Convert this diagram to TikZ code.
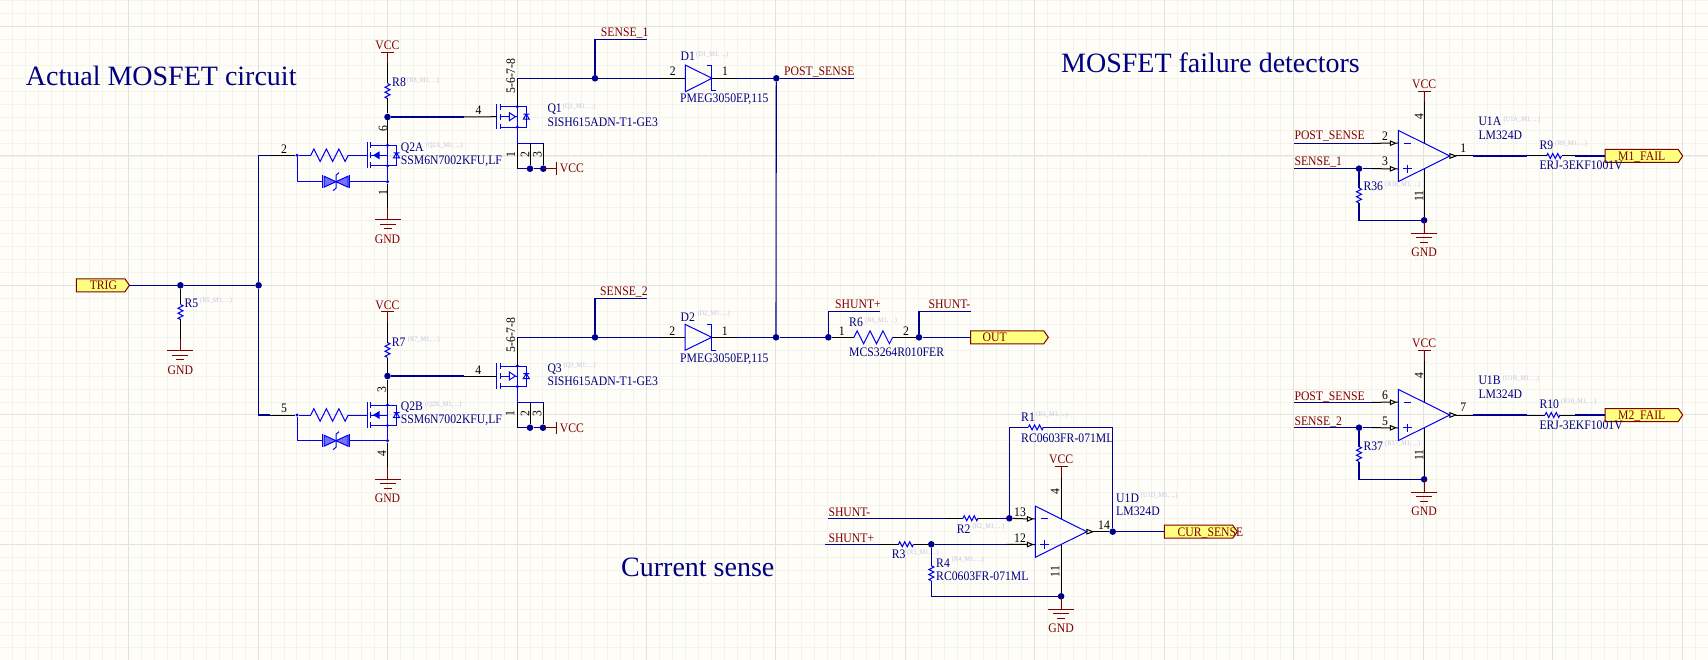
\documentclass[tikz,border=0pt]{standalone}
\usepackage{fontspec}
\setmainfont[FakeStretch=0.9]{Liberation Serif}
\newfontfamily\headfont{Liberation Serif}

\definecolor{sheetcol}{HTML}{FFFDF8}
\definecolor{gridcol}{HTML}{F3F3EE}
\definecolor{gridmaj}{HTML}{E2E2DE}
\definecolor{wirecol}{HTML}{000090}
\definecolor{partcol}{HTML}{0000F0}
\definecolor{textcol}{HTML}{000080}
\definecolor{netcol}{HTML}{800000}
\definecolor{refcol}{HTML}{C4C4DE}
\definecolor{portcol}{HTML}{FFFF80}

\newcommand{\fetbody}{
	\draw[part] (-20.5,-12.8) -- (-20.5,12.8);
	\draw[part] (-16.8,-12.8) -- (-16.8,-7) (-16.8,-3) -- (-16.8,3) (-16.8,7) -- (-16.8,12.8);
	\draw[part] (-16.8,-10) -- (9,-10) -- (9,10.5) -- (-16.8,10.5);
	\draw[part] (-16.8,0) -- (0,0) (0,-10) -- (0,10.5);
	\draw[part] (6,2.5) -- (12,2.5) -- (9,-2.5) -- cycle (6,-2.5) -- (12,-2.5);
	\fill[partcol] (0,-10) circle (1.7) (0,10.5) circle (1.7);
	\coordinate (-g) at (-20.5,0);
	\coordinate (-d) at (0,-10);
	\coordinate (-s) at (0,10.5);
}

\tikzset{
	wire/.style={draw=wirecol,line width=1.1pt},
	pinl/.style={draw=black,line width=1pt},
	part/.style={draw=partcol,line width=1pt},
	redl/.style={draw=netcol,line width=1pt},
	junc/.style={circle,fill=wirecol,draw=none,inner sep=0pt,minimum size=6.6pt},
	tee/.style={circle,fill=partcol,draw=none,inner sep=0pt,minimum size=3.4pt},
	lbl/.style={font=\fontsize{13}{14}\selectfont,inner sep=0pt,text height=8.6pt,text depth=0pt},
	desig/.style={lbl,text=textcol,anchor=west},
	netred/.style={lbl,text=netcol,anchor=west},
	pinno/.style={lbl,text=black,anchor=center},
	refx/.style={font=\fontsize{7.1}{8}\selectfont,text=refcol,inner sep=0pt,anchor=west},
	headl/.style={font=\headfont\fontsize{28}{30}\selectfont,text=textcol,inner sep=0pt,anchor=west},
	resz/.pic={
		\draw[part] (-7.5,0) -- (-6.25,-2.5) -- (-3.75,2.5) -- (-1.25,-2.5) -- (1.25,2.5) -- (3.75,-2.5) -- (6.25,2.5) -- (7.5,0);
		\coordinate (-a) at (-7.5,0);
		\coordinate (-b) at (7.5,0);
	},
	fetn/.pic={
		\fetbody
		\fill[partcol] (-14.5,0) -- (-8,-4) -- (-8,4) -- cycle;
	},
	fetp/.pic={
		\fetbody
		\draw[part,fill=sheetcol] (-8,-4) -- (-8,4) -- (-2,0) -- cycle;
	},
	clampd/.pic={
		\draw[part,fill=partcol!55] (-12,-5.5) -- (-12,5.5) -- (0,0) -- cycle;
		\draw[part,fill=partcol!55] (12,-5.5) -- (12,5.5) -- (0,0) -- cycle;
		\draw[part] (3,-9) -- (0,-6.5) -- (0,6.5) -- (-3,9);
		\draw[part] (-13.7,-6.5) -- (-13.7,6.5) (13.3,-6.5) -- (13.3,6.5);
		\coordinate (-a) at (-13.7,0);
		\coordinate (-b) at (13.3,0);
	},
	opa/.pic={
		\draw[part] (0,-25.6) -- (0,25.6) -- (51.5,0) -- cycle;
		\draw[part] (5.4,-12.8) -- (13,-12.8);
		\draw[part] (5,12.8) -- (13.4,12.8) (9.2,8.6) -- (9.2,17);
		\draw[pinl] (-8,-15) -- (-8,-10.6) -- (-2.7,-12.8) -- cycle (-2.7,-12.8) -- (0,-12.8);
		\draw[pinl] (-8,10.6) -- (-8,15) -- (-2.7,12.8) -- cycle (-2.7,12.8) -- (0,12.8);
		\draw[pinl] (51.5,-2.3) -- (51.5,2.3) -- (57.5,0) -- cycle;
		\coordinate (-m) at (-8,-12.8);
		\coordinate (-n) at (-8,12.8);
		\coordinate (-o) at (57.5,0);
		\coordinate (-t) at (25.8,-12.9);
		\coordinate (-u) at (25.8,12.9);
	},
	gndp/.pic={
		\draw[redl] (0,-12) -- (0,0) (-13,0) -- (13,0) (-8,4.5) -- (8,4.5) (-4,9) -- (4,9);
		\node[lbl,text=netcol] (-txt) at (0,19.3) {GND};
		\coordinate (-p) at (0,-12);
	},
	vccp/.pic={
		\draw[redl] (-6.5,0) -- (6.5,0) (0,0) -- (0,10.7);
		\node[lbl,text=netcol] (-txt) at (0,-7) {VCC};
		\coordinate (-p) at (0,10.7);
	},
	vccs/.pic={
		\draw[redl] (0,-6.2) -- (0,6.2) (-13.4,0) -- (0,0);
		\node[netred] (-txt) at (3,0) {VCC};
		\coordinate (-p) at (-13.4,0);
	},
	pics/portb/.style n args={3}{code={
		\draw[netcol,fill=portcol,line width=1pt] (0,-6.5) -- (#1-4.5,-6.5) -- (#1,0) -- (#1-4.5,6.5) -- (0,6.5) -- cycle;
		\node[lbl,text=netcol] (-txt) at (#2,0) {#3};
		\coordinate (-w) at (0,0);
		\coordinate (-e) at (#1,0);
	}}
}

\begin{document}
\begin{tikzpicture}[x=1pt,y=-1pt]
	\useasboundingbox (0,0) rectangle (1708,660);
	\fill[sheetcol] (0,0) rectangle (1708,660);

	% sheet grid
	\begin{scope}
		\clip (0,0) rectangle (1708,660);
		\foreach \i in {0,...,132}
			\draw[gridcol,line width=0.8pt] (-0.85+12.945*\i,0) -- (-0.85+12.945*\i,660);
		\foreach \i in {0,...,51}
			\draw[gridcol,line width=0.8pt] (0,0.61+12.945*\i) -- (1708,0.61+12.945*\i);
		\foreach \i in {0,...,13}
			\draw[gridmaj,line width=0.9pt] (-0.85+129.45*\i,0) -- (-0.85+129.45*\i,660);
		\foreach \i in {0,...,5}
			\draw[gridmaj,line width=0.9pt] (0,26.5+129.45*\i) -- (1708,26.5+129.45*\i);
	\end{scope}

	\node[headl] (H1) at (25.7,76) {Actual MOSFET circuit};
	\node[headl] (H2) at (1061,63) {MOSFET failure detectors};
	\node[headl] (H3) at (621,567) {Current sense};

	% trigger input
	\pic (TRIG) at (76.4,285.3) {portb={53}{27}{TRIG}};
	\node[junc] (J5) at (180.4,285.3) {};
	\node[junc] (J0) at (258.6,285.3) {};
	\pic[rotate=-90] (R5) at (180.4,312) {resz};
	\pic (G5) at (180.4,350.7) {gndp};
	\path (TRIG-e) edge[wire] (J5)
		(J5) edge[wire] (J0)
		(J5) edge[pinl] (R5-a)
		(R5-b) edge[pinl] (G5-p);
	\node[desig] (R5n) at (184.3,303.3) {R5};
	\node[refx] (R5r) at (200,300.7) {(R5\_M1, ...)};

	% upper pair
	\coordinate (M1) at (270,155.3);
	\node[tee] (T1) at (297,155.3) {};
	\pic[scale=2.5] (RA) at (329.5,155.3) {resz};
	\pic (Q2A) at (387.5,155.3) {fetn};
	\pic (ZA) at (336,181.7) {clampd};
	\node[tee] (S1) at (387.5,181.7) {};
	\pic (G1) at (387.5,220) {gndp};
	\pic[rotate=-90] (R8) at (387.5,91) {resz};
	\pic (V1) at (387.5,52.3) {vccp};
	\node[junc] (J1) at (387.5,117) {};
	\draw[wire] (J0) |- (M1);
	\draw[part] (T1) |- (ZA-a);
	\path (M1) edge[pinl] (T1)
		(T1) edge[part] (RA-a)
		(RA-b) edge[part] (Q2A-g)
		(ZA-b) edge[part] (S1)
		(Q2A-s) edge[part] (S1)
		(S1) edge[pinl] (G1-p)
		(V1-p) edge[pinl] (R8-a)
		(R8-b) edge[pinl] (J1)
		(J1) edge[pinl] (Q2A-d);
	\node[pinno] (P2) at (284,149) {2};
	\node[pinno,rotate=90] (P6) at (383,129) {6};
	\node[pinno,rotate=90] (P1) at (383,193) {1};
	\node[desig] (R8n) at (392,82.7) {R8};
	\node[refx] (R8r) at (407,81) {(R8\_M1, ...)};
	\node[desig] (QAn) at (400.7,147.7) {Q2A};
	\node[refx] (QAr) at (425.7,145.7) {(Q2A\_M1, ...)};
	\node[desig] (QAv) at (400.7,160) {SSM6N7002KFU,LF};

	\pic (Q1) at (517.3,116.7) {fetp};
	\coordinate (M2) at (464,117);
	\coordinate (D1t) at (517.3,78.3);
	\node[junc] (J2) at (595,78.3) {};
	\coordinate (N1) at (646.7,39.3);
	\coordinate (A1) at (517.3,143.3);
	\coordinate (B1) at (530,143.3);
	\coordinate (C1) at (543.3,143.3);
	\coordinate (A2) at (517.3,168.7);
	\node[junc] (B2) at (530,168.7) {};
	\node[junc] (C2) at (543.3,168.7) {};
	\pic (V2) at (556.7,168.7) {vccs};
	\draw[wire] (J2) |- (N1);
	\path (J1) edge[wire] (M2)
		(M2) edge[pinl] (Q1-g)
		(Q1-d) edge[pinl] (D1t)
		(D1t) edge[wire] (J2)
		(Q1-s) edge[part] (A1)
		(A1) edge[part] (C1)
		(A1) edge[pinl] (A2)
		(B1) edge[pinl] (B2)
		(C1) edge[pinl] (C2)
		(A2) edge[wire] (B2)
		(B2) edge[wire] (C2)
		(C2) edge[redl] (V2-p);
	\node[pinno] (P4) at (478.6,110.7) {4};
	\node[pinno,rotate=90] (P58) at (510.7,76) {5-6-7-8};
	\node[pinno,rotate=90] (P11) at (510.7,155) {1};
	\node[pinno,rotate=90] (P12) at (525,155) {2};
	\node[pinno,rotate=90] (P13) at (537.3,155) {3};
	\node[desig] (Q1n) at (547.3,108.7) {Q1};
	\node[refx] (Q1r) at (562.7,106.7) {(Q1\_M1, ...)};
	\node[desig] (Q1v) at (547.3,122) {SISH615ADN-T1-GE3};
	\node[netred] (N1t) at (600.7,32.7) {SENSE\_1};

	% upper diode
	\coordinate (Da1) at (660,78.3);
	\coordinate (Db1) at (685.3,78.3);
	\coordinate (Dc1) at (712,78.3);
	\coordinate (Dd1) at (736.7,78.3);
	\draw[part] (Db1) -- (685.3,65) -- (Dc1) -- (685.3,91.7) -- cycle;
	\draw[part] (707.3,65.5) -- (711.5,65.5) -- (711.5,91) -- (715.7,91);
	\node[junc] (J3) at (776.3,78.3) {};
	\coordinate (Ps) at (854,78.3);
	\path (D1t) edge[wire] (Da1)
		(Da1) edge[pinl] (Db1)
		(Dc1) edge[pinl] (Dd1)
		(Dd1) edge[wire] (J3)
		(J3) edge[wire] (Ps);
	\node[pinno] (Dp2) at (672.7,71.7) {2};
	\node[pinno] (Dp1) at (725,71.7) {1};
	\node[desig] (D1n) at (680.5,56.7) {D1};
	\node[refx] (D1r) at (696,54.3) {(D1\_M1, ...)};
	\node[desig] (D1v) at (680,98.7) {PMEG3050EP,115};
	\node[netred] (Pst) at (784,71.7) {POST\_SENSE};

	% lower pair
	\coordinate (M3) at (270,415);
	\node[tee] (T2) at (297,415) {};
	\pic[scale=2.5] (RB) at (329.5,415) {resz};
	\pic (Q2B) at (387.5,415) {fetn};
	\pic (ZB) at (336,440.7) {clampd};
	\node[tee] (S2) at (387.5,440.7) {};
	\pic (G2) at (387.5,479.3) {gndp};
	\pic[rotate=-90] (R7) at (387.5,350) {resz};
	\pic (V3) at (387.5,311.7) {vccp};
	\node[junc] (J4) at (387.5,376) {};
	\draw[wire] (J0) |- (M3);
	\draw[part] (T2) |- (ZB-a);
	\path (M3) edge[pinl] (T2)
		(T2) edge[part] (RB-a)
		(RB-b) edge[part] (Q2B-g)
		(ZB-b) edge[part] (S2)
		(Q2B-s) edge[part] (S2)
		(S2) edge[pinl] (G2-p)
		(V3-p) edge[pinl] (R7-a)
		(R7-b) edge[pinl] (J4)
		(J4) edge[pinl] (Q2B-d);
	\node[pinno] (P5) at (284,407.7) {5};
	\node[pinno,rotate=90] (P3) at (381.7,389.3) {3};
	\node[pinno,rotate=90] (P44) at (381.7,453.3) {4};
	\node[desig] (R7n) at (391.7,341.7) {R7};
	\node[refx] (R7r) at (407.7,340) {(R7\_M1, ...)};
	\node[desig] (QBn) at (400.7,406) {Q2B};
	\node[refx] (QBr) at (425,405) {(Q2B\_M1, ...)};
	\node[desig] (QBv) at (400.7,419.3) {SSM6N7002KFU,LF};

	\pic (Q3) at (517.3,376) {fetp};
	\coordinate (M4) at (464,376);
	\coordinate (D2t) at (517.3,337.3);
	\node[junc] (J6) at (595,337.3) {};
	\coordinate (N2) at (646.7,298.3);
	\coordinate (E1) at (517.3,402.3);
	\coordinate (F1) at (530,402.3);
	\coordinate (H1c) at (543,402.3);
	\coordinate (E2) at (517.3,427.7);
	\node[junc] (F2) at (530,427.7) {};
	\node[junc] (G2c) at (543,427.7) {};
	\pic (V4) at (556.7,427.7) {vccs};
	\draw[wire] (J6) |- (N2);
	\path (J4) edge[wire] (M4)
		(M4) edge[pinl] (Q3-g)
		(Q3-d) edge[pinl] (D2t)
		(D2t) edge[wire] (J6)
		(Q3-s) edge[part] (E1)
		(E1) edge[part] (H1c)
		(E1) edge[pinl] (E2)
		(F1) edge[pinl] (F2)
		(H1c) edge[pinl] (G2c)
		(E2) edge[wire] (F2)
		(F2) edge[wire] (G2c)
		(G2c) edge[redl] (V4-p);
	\node[pinno] (P42) at (478.3,370) {4};
	\node[pinno,rotate=90] (P58b) at (510.7,335) {5-6-7-8};
	\node[pinno,rotate=90] (P21) at (510,414) {1};
	\node[pinno,rotate=90] (P22) at (525,414) {2};
	\node[pinno,rotate=90] (P23) at (537,414) {3};
	\node[desig] (Q3n) at (547.3,367.7) {Q3};
	\node[refx] (Q3r) at (563.3,366) {(Q3\_M1, ...)};
	\node[desig] (Q3v) at (547.3,380.7) {SISH615ADN-T1-GE3};
	\node[netred] (N2t) at (600,291.7) {SENSE\_2};

	% lower diode and shunt
	\coordinate (Da2) at (660,337.3);
	\coordinate (Db2) at (685,337.3);
	\coordinate (Dc2) at (711.7,337.3);
	\coordinate (Dd2) at (736.7,337.3);
	\draw[part] (Db2) -- (685,324.3) -- (Dc2) -- (685,350.3) -- cycle;
	\draw[part] (707.3,324.8) -- (711.5,324.8) -- (711.5,350) -- (715.7,350);
	\node[junc] (J7) at (776,337.3) {};
	\node[junc] (J8) at (828.3,337.3) {};
	\node[junc] (J9) at (919,337.3) {};
	\pic[scale=2.58] (R6) at (873.3,337.3) {resz};
	\coordinate (Sp) at (880,311.7);
	\coordinate (Sm) at (970.7,311.7);
	\pic (OUT) at (970.7,337.3) {portb={77.6}{24}{OUT}};
	\draw[wire] (J8) |- (Sp);
	\draw[wire] (J9) |- (Sm);
	\path (D2t) edge[wire] (Da2)
		(Da2) edge[pinl] (Db2)
		(Dc2) edge[pinl] (Dd2)
		(Dd2) edge[wire] (J7)
		(J3) edge[wire] (J7)
		(J7) edge[wire] (J8)
		(J8) edge[pinl] (R6-a)
		(R6-b) edge[pinl] (J9)
		(J9) edge[wire] (OUT-w);
	\node[pinno] (Dq2) at (672.3,330.7) {2};
	\node[pinno] (Dq1) at (724.7,330.7) {1};
	\node[desig] (D2n) at (680.5,316.7) {D2};
	\node[refx] (D2r) at (697.3,314) {(D2\_M1, ...)};
	\node[desig] (D2v) at (680,357.7) {PMEG3050EP,115};
	\node[netred] (Spt) at (835,304.3) {SHUNT+};
	\node[netred] (Smt) at (928.3,304.3) {SHUNT-};
	\node[pinno] (Rp1) at (841.7,330.7) {1};
	\node[pinno] (Rp2) at (906,330.7) {2};
	\node[desig] (R6n) at (849,322.3) {R6};
	\node[refx] (R6r) at (865,321) {(R6\_M1, ...)};
	\node[desig] (R6v) at (849,351.7) {MCS3264R010FER};

	% current sense amplifier
	\pic (U1D) at (1035.3,531.7) {opa};
	\pic (V5) at (1061.1,466) {vccp};
	\pic (G3) at (1061.1,609.3) {gndp};
	\node[junc] (J10) at (1009.3,518.3) {};
	\node[junc] (J11) at (1112.7,531.7) {};
	\node[junc] (J12) at (931.3,544.3) {};
	\node[junc] (J13) at (1061.1,596.3) {};
	\pic (R1) at (1035.8,427.3) {resz};
	\pic (R2) at (970.5,518.3) {resz};
	\pic (R3) at (906,544.3) {resz};
	\pic[rotate=-90] (R4) at (931.3,573.3) {resz};
	\coordinate (Sa) at (828.3,518.3);
	\coordinate (Sb) at (945,518.3);
	\coordinate (Sc) at (996.7,518.3);
	\coordinate (Sd) at (825,544.3);
	\coordinate (Se) at (880,544.3);
	\coordinate (Sf) at (1006.7,544.3);
	\pic (CUR) at (1164.3,531.7) {portb={73}{46.2}{CUR\_SENSE}};
	\draw[wire] (J10) |- (R1-a);
	\draw[wire] (R1-b) -| (J11);
	\draw[wire] (R4-b) |- (J13);
	\path (Sa) edge[wire] (Sb)
		(Sb) edge[pinl] (R2-a)
		(R2-b) edge[pinl] (Sc)
		(Sc) edge[wire] (J10)
		(J10) edge[pinl] (U1D-m)
		(Sd) edge[wire] (Se)
		(Se) edge[pinl] (R3-a)
		(R3-b) edge[pinl] (J12)
		(J12) edge[wire] (Sf)
		(Sf) edge[pinl] (U1D-n)
		(J12) edge[wire] (R4-a)
		(U1D-o) edge[pinl] (J11)
		(J11) edge[wire] (CUR-w)
		(V5-p) edge[pinl] (U1D-t)
		(U1D-u) edge[pinl] (J13)
		(J13) edge[redl] (G3-p);
	\node[netred] (Smn) at (828.3,511.7) {SHUNT-};
	\node[netred] (Spl) at (828.3,537.7) {SHUNT+};
	\node[pinno] (Up13) at (1020,511.7) {13};
	\node[pinno] (Up12) at (1020,537.7) {12};
	\node[pinno] (Up14) at (1104,525) {14};
	\node[pinno,rotate=90] (Up4) at (1055,491.7) {4};
	\node[pinno,rotate=90] (Up11) at (1055,571.7) {11};
	\node[desig] (R1n) at (1021,417.3) {R1};
	\node[refx] (R1r) at (1036,415) {(R1\_M1, ...)};
	\node[desig] (R1v) at (1021,437.7) {RC0603FR-071ML};
	\node[desig] (R2n) at (956.7,529) {R2};
	\node[refx] (R2r) at (972.3,527) {(R2\_M1, ...)};
	\node[desig] (R3n) at (891.7,554.3) {R3};
	\node[refx] (R3r) at (906.7,552.7) {(R3\_M1, ...)};
	\node[desig] (R4n) at (936,562.7) {R4};
	\node[refx] (R4r) at (951.7,560) {(R4\_M1, ...)};
	\node[desig] (R4v) at (936,576) {RC0603FR-071ML};
	\node[desig] (UDn) at (1116,497.7) {U1D};
	\node[refx] (UDr) at (1140.7,496) {(U1D\_M1, ...)};
	\node[desig] (UDv) at (1116,511) {LM324D};

	% failure detector 1
	\pic (U1A) at (1398.3,156) {opa};
	\pic (V6) at (1424.1,91.7) {vccp};
	\pic (G4) at (1424.1,233.3) {gndp};
	\node[junc] (J14) at (1359,168.7) {};
	\node[junc] (J15) at (1424.1,220.3) {};
	\pic[rotate=-90] (R36) at (1359,195.5) {resz};
	\pic (R9) at (1554,156) {resz};
	\coordinate (Fa) at (1294.3,143.3);
	\coordinate (Fb) at (1372,143.3);
	\coordinate (Fc) at (1294.3,168.7);
	\coordinate (Fd) at (1372,168.7);
	\coordinate (Fe) at (1473,156);
	\coordinate (Ff) at (1527,156);
	\coordinate (Fg) at (1575,156);
	\pic (M1F) at (1605,156) {portb={77.7}{36.7}{M1\_FAIL}};
	\draw[wire] (R36-b) |- (J15);
	\path (Fa) edge[wire] (Fb)
		(Fb) edge[pinl] (U1A-m)
		(Fc) edge[wire] (J14)
		(J14) edge[wire] (Fd)
		(Fd) edge[pinl] (U1A-n)
		(J14) edge[wire] (R36-a)
		(U1A-o) edge[pinl] (Fe)
		(Fe) edge[wire] (Ff)
		(Ff) edge[pinl] (R9-a)
		(R9-b) edge[pinl] (Fg)
		(Fg) edge[wire] (M1F-w)
		(V6-p) edge[pinl] (U1A-t)
		(U1A-u) edge[pinl] (J15)
		(J15) edge[redl] (G4-p);
	\node[netred] (Fn1) at (1294.3,135.3) {POST\_SENSE};
	\node[netred] (Fn2) at (1294.3,161.7) {SENSE\_1};
	\node[pinno] (Ua2) at (1385,136) {2};
	\node[pinno] (Ua3) at (1385,161.7) {3};
	\node[pinno] (Ua1) at (1463.3,148.3) {1};
	\node[pinno,rotate=90] (Ua4) at (1419,116.7) {4};
	\node[pinno,rotate=90] (Ua11) at (1419,196) {11};
	\node[desig] (R36n) at (1363.3,186.7) {R36};
	\node[refx] (R36r) at (1385,184.7) {(R36\_M1, ...)};
	\node[desig] (UAn) at (1478.3,121.7) {U1A};
	\node[refx] (UAr) at (1503.3,120) {(U1A\_M1, ...)};
	\node[desig] (UAv) at (1478.3,135) {LM324D};
	\node[desig] (R9n) at (1539.3,145.7) {R9};
	\node[refx] (R9r) at (1555,143.3) {(R9\_M1, ...)};
	\node[desig] (R9v) at (1539.3,165.7) {ERJ-3EKF1001V};

	% failure detector 2
	\pic (U1B) at (1398.3,415) {opa};
	\pic (V7) at (1424.1,350.7) {vccp};
	\pic (G6) at (1424.1,492.3) {gndp};
	\node[junc] (J16) at (1359,427.7) {};
	\node[junc] (J17) at (1424.1,479.3) {};
	\pic[rotate=-90] (R37) at (1359,454) {resz};
	\pic (R10) at (1552.5,415) {resz};
	\coordinate (Ga) at (1294.3,402.3);
	\coordinate (Gb) at (1372,402.3);
	\coordinate (Gc) at (1294.3,427.7);
	\coordinate (Gd) at (1372,427.7);
	\coordinate (Ge) at (1473,415);
	\coordinate (Gf) at (1527,415);
	\coordinate (Gg) at (1575,415);
	\pic (M2F) at (1605,415) {portb={77.7}{36.7}{M2\_FAIL}};
	\draw[wire] (R37-b) |- (J17);
	\path (Ga) edge[wire] (Gb)
		(Gb) edge[pinl] (U1B-m)
		(Gc) edge[wire] (J16)
		(J16) edge[wire] (Gd)
		(Gd) edge[pinl] (U1B-n)
		(J16) edge[wire] (R37-a)
		(U1B-o) edge[pinl] (Ge)
		(Ge) edge[wire] (Gf)
		(Gf) edge[pinl] (R10-a)
		(R10-b) edge[pinl] (Gg)
		(Gg) edge[wire] (M2F-w)
		(V7-p) edge[pinl] (U1B-t)
		(U1B-u) edge[pinl] (J17)
		(J17) edge[redl] (G6-p);
	\node[netred] (Gn1) at (1294.3,395.7) {POST\_SENSE};
	\node[netred] (Gn2) at (1294.3,420.7) {SENSE\_2};
	\node[pinno] (Ub6) at (1385,395.3) {6};
	\node[pinno] (Ub5) at (1385,420.7) {5};
	\node[pinno] (Ub7) at (1463.3,407.3) {7};
	\node[pinno,rotate=90] (Ub4) at (1419,375.3) {4};
	\node[pinno,rotate=90] (Ub11) at (1419,455) {11};
	\node[desig] (R37n) at (1363.3,445.7) {R37};
	\node[refx] (R37r) at (1385,444) {(R37\_M1, ...)};
	\node[desig] (UBn) at (1478.3,380) {U1B};
	\node[refx] (UBr) at (1502.7,378.7) {(U1B\_M1, ...)};
	\node[desig] (UBv) at (1478.3,394) {LM324D};
	\node[desig] (R10n) at (1539.3,404.3) {R10};
	\node[refx] (R10r) at (1561,402) {(R10\_M1, ...)};
	\node[desig] (R10v) at (1539.3,425) {ERJ-3EKF1001V};
\end{tikzpicture}
\end{document}
